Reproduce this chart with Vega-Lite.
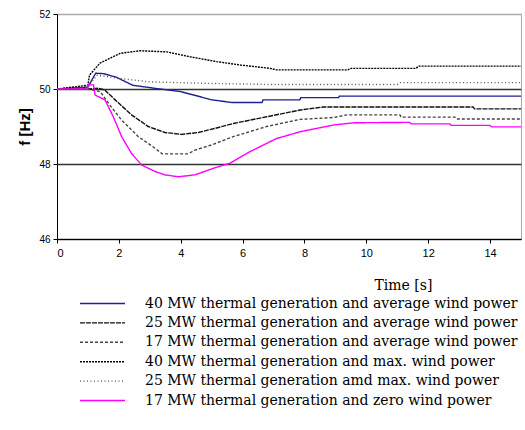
{
  "$schema": "https://vega.github.io/schema/vega-lite/v6.json",
  "width": 464,
  "height": 225,
  "autosize": "none",
  "padding": {"left": 57, "top": 14, "right": 4, "bottom": 191},
  "background": "white",
  "data": {
    "values": [
      {"s": "40 MW thermal generation and average wind power", "t": 0, "f": 50},
      {"s": "40 MW thermal generation and average wind power", "t": 1.0, "f": 50.05},
      {"s": "40 MW thermal generation and average wind power", "t": 1.25, "f": 50.42},
      {"s": "40 MW thermal generation and average wind power", "t": 1.5, "f": 50.41},
      {"s": "40 MW thermal generation and average wind power", "t": 1.9, "f": 50.32},
      {"s": "40 MW thermal generation and average wind power", "t": 2.45, "f": 50.1},
      {"s": "40 MW thermal generation and average wind power", "t": 3.15, "f": 50.02},
      {"s": "40 MW thermal generation and average wind power", "t": 4.0, "f": 49.93},
      {"s": "40 MW thermal generation and average wind power", "t": 4.6, "f": 49.8},
      {"s": "40 MW thermal generation and average wind power", "t": 5.0, "f": 49.71},
      {"s": "40 MW thermal generation and average wind power", "t": 5.66, "f": 49.64},
      {"s": "40 MW thermal generation and average wind power", "t": 6.63, "f": 49.64},
      {"s": "40 MW thermal generation and average wind power", "t": 6.66, "f": 49.71},
      {"s": "40 MW thermal generation and average wind power", "t": 7.85, "f": 49.71},
      {"s": "40 MW thermal generation and average wind power", "t": 7.88, "f": 49.77},
      {"s": "40 MW thermal generation and average wind power", "t": 9.1, "f": 49.77},
      {"s": "40 MW thermal generation and average wind power", "t": 9.13, "f": 49.81},
      {"s": "40 MW thermal generation and average wind power", "t": 15, "f": 49.81},

      {"s": "25 MW thermal generation and average wind power", "t": 0, "f": 50},
      {"s": "25 MW thermal generation and average wind power", "t": 1.0, "f": 50},
      {"s": "25 MW thermal generation and average wind power", "t": 1.34, "f": 50.02},
      {"s": "25 MW thermal generation and average wind power", "t": 1.55, "f": 49.97},
      {"s": "25 MW thermal generation and average wind power", "t": 1.88, "f": 49.71},
      {"s": "25 MW thermal generation and average wind power", "t": 2.41, "f": 49.31},
      {"s": "25 MW thermal generation and average wind power", "t": 2.95, "f": 49.0},
      {"s": "25 MW thermal generation and average wind power", "t": 3.49, "f": 48.84},
      {"s": "25 MW thermal generation and average wind power", "t": 4.03, "f": 48.79},
      {"s": "25 MW thermal generation and average wind power", "t": 4.57, "f": 48.84},
      {"s": "25 MW thermal generation and average wind power", "t": 5.11, "f": 48.95},
      {"s": "25 MW thermal generation and average wind power", "t": 5.7, "f": 49.08},
      {"s": "25 MW thermal generation and average wind power", "t": 6.78, "f": 49.26},
      {"s": "25 MW thermal generation and average wind power", "t": 7.86, "f": 49.44},
      {"s": "25 MW thermal generation and average wind power", "t": 8.6, "f": 49.52},
      {"s": "25 MW thermal generation and average wind power", "t": 13.45, "f": 49.52},
      {"s": "25 MW thermal generation and average wind power", "t": 13.5, "f": 49.47},
      {"s": "25 MW thermal generation and average wind power", "t": 15, "f": 49.47},

      {"s": "17 MW thermal generation and average wind power", "t": 0, "f": 50},
      {"s": "17 MW thermal generation and average wind power", "t": 1.0, "f": 50},
      {"s": "17 MW thermal generation and average wind power", "t": 1.4, "f": 49.93},
      {"s": "17 MW thermal generation and average wind power", "t": 1.71, "f": 49.57},
      {"s": "17 MW thermal generation and average wind power", "t": 2.09, "f": 49.17},
      {"s": "17 MW thermal generation and average wind power", "t": 2.63, "f": 48.73},
      {"s": "17 MW thermal generation and average wind power", "t": 3.17, "f": 48.42},
      {"s": "17 MW thermal generation and average wind power", "t": 3.4, "f": 48.27},
      {"s": "17 MW thermal generation and average wind power", "t": 4.24, "f": 48.27},
      {"s": "17 MW thermal generation and average wind power", "t": 4.46, "f": 48.37},
      {"s": "17 MW thermal generation and average wind power", "t": 5.0, "f": 48.51},
      {"s": "17 MW thermal generation and average wind power", "t": 5.7, "f": 48.73},
      {"s": "17 MW thermal generation and average wind power", "t": 6.78, "f": 49.0},
      {"s": "17 MW thermal generation and average wind power", "t": 7.86, "f": 49.19},
      {"s": "17 MW thermal generation and average wind power", "t": 8.94, "f": 49.24},
      {"s": "17 MW thermal generation and average wind power", "t": 9.37, "f": 49.31},
      {"s": "17 MW thermal generation and average wind power", "t": 11.09, "f": 49.31},
      {"s": "17 MW thermal generation and average wind power", "t": 11.12, "f": 49.25},
      {"s": "17 MW thermal generation and average wind power", "t": 12.9, "f": 49.25},
      {"s": "17 MW thermal generation and average wind power", "t": 12.95, "f": 49.2},
      {"s": "17 MW thermal generation and average wind power", "t": 15, "f": 49.2},

      {"s": "40 MW thermal generation and max. wind power", "t": 0, "f": 50},
      {"s": "40 MW thermal generation and max. wind power", "t": 1.0, "f": 50.1},
      {"s": "40 MW thermal generation and max. wind power", "t": 1.05, "f": 50.37},
      {"s": "40 MW thermal generation and max. wind power", "t": 1.39, "f": 50.69},
      {"s": "40 MW thermal generation and max. wind power", "t": 2.04, "f": 50.95},
      {"s": "40 MW thermal generation and max. wind power", "t": 2.68, "f": 51.02},
      {"s": "40 MW thermal generation and max. wind power", "t": 3.55, "f": 50.99},
      {"s": "40 MW thermal generation and max. wind power", "t": 4.3, "f": 50.86},
      {"s": "40 MW thermal generation and max. wind power", "t": 5.16, "f": 50.73},
      {"s": "40 MW thermal generation and max. wind power", "t": 5.92, "f": 50.64},
      {"s": "40 MW thermal generation and max. wind power", "t": 6.89, "f": 50.55},
      {"s": "40 MW thermal generation and max. wind power", "t": 7.1, "f": 50.51},
      {"s": "40 MW thermal generation and max. wind power", "t": 9.4, "f": 50.51},
      {"s": "40 MW thermal generation and max. wind power", "t": 9.5, "f": 50.55},
      {"s": "40 MW thermal generation and max. wind power", "t": 11.6, "f": 50.55},
      {"s": "40 MW thermal generation and max. wind power", "t": 11.7, "f": 50.61},
      {"s": "40 MW thermal generation and max. wind power", "t": 15, "f": 50.61},

      {"s": "25 MW thermal generation amd max. wind power", "t": 0, "f": 50},
      {"s": "25 MW thermal generation amd max. wind power", "t": 1.0, "f": 50.05},
      {"s": "25 MW thermal generation amd max. wind power", "t": 1.3, "f": 50.37},
      {"s": "25 MW thermal generation amd max. wind power", "t": 2.04, "f": 50.28},
      {"s": "25 MW thermal generation amd max. wind power", "t": 3.0, "f": 50.19},
      {"s": "25 MW thermal generation amd max. wind power", "t": 4.9, "f": 50.15},
      {"s": "25 MW thermal generation amd max. wind power", "t": 6.9, "f": 50.12},
      {"s": "25 MW thermal generation amd max. wind power", "t": 11.0, "f": 50.12},
      {"s": "25 MW thermal generation amd max. wind power", "t": 11.1, "f": 50.17},
      {"s": "25 MW thermal generation amd max. wind power", "t": 15, "f": 50.17},

      {"s": "17 MW thermal generation and zero wind power", "t": 0, "f": 50},
      {"s": "17 MW thermal generation and zero wind power", "t": 0.99, "f": 50},
      {"s": "17 MW thermal generation and zero wind power", "t": 1.0, "f": 50.11},
      {"s": "17 MW thermal generation and zero wind power", "t": 1.18, "f": 50.11},
      {"s": "17 MW thermal generation and zero wind power", "t": 1.23, "f": 49.84},
      {"s": "17 MW thermal generation and zero wind power", "t": 1.55, "f": 49.71},
      {"s": "17 MW thermal generation and zero wind power", "t": 1.82, "f": 49.26},
      {"s": "17 MW thermal generation and zero wind power", "t": 2.09, "f": 48.73},
      {"s": "17 MW thermal generation and zero wind power", "t": 2.41, "f": 48.28},
      {"s": "17 MW thermal generation and zero wind power", "t": 2.74, "f": 47.97},
      {"s": "17 MW thermal generation and zero wind power", "t": 3.17, "f": 47.8},
      {"s": "17 MW thermal generation and zero wind power", "t": 3.49, "f": 47.71},
      {"s": "17 MW thermal generation and zero wind power", "t": 3.92, "f": 47.66},
      {"s": "17 MW thermal generation and zero wind power", "t": 4.46, "f": 47.71},
      {"s": "17 MW thermal generation and zero wind power", "t": 5.11, "f": 47.9},
      {"s": "17 MW thermal generation and zero wind power", "t": 5.59, "f": 48.02},
      {"s": "17 MW thermal generation and zero wind power", "t": 6.24, "f": 48.33},
      {"s": "17 MW thermal generation and zero wind power", "t": 7.1, "f": 48.68},
      {"s": "17 MW thermal generation and zero wind power", "t": 7.86, "f": 48.86},
      {"s": "17 MW thermal generation and zero wind power", "t": 8.94, "f": 49.04},
      {"s": "17 MW thermal generation and zero wind power", "t": 9.6, "f": 49.1},
      {"s": "17 MW thermal generation and zero wind power", "t": 11.4, "f": 49.11},
      {"s": "17 MW thermal generation and zero wind power", "t": 11.45, "f": 49.07},
      {"s": "17 MW thermal generation and zero wind power", "t": 12.7, "f": 49.07},
      {"s": "17 MW thermal generation and zero wind power", "t": 12.75, "f": 49.03},
      {"s": "17 MW thermal generation and zero wind power", "t": 14.0, "f": 49.03},
      {"s": "17 MW thermal generation and zero wind power", "t": 14.05, "f": 48.99},
      {"s": "17 MW thermal generation and zero wind power", "t": 15, "f": 48.99}
    ]
  },
  "mark": {"type": "line", "clip": true},
  "encoding": {
    "x": {
      "field": "t",
      "type": "quantitative",
      "scale": {"domain": [0, 15], "nice": false},
      "axis": {
        "values": [0, 2, 4, 6, 8, 10, 12, 14],
        "title": "Time [s]",
        "titleFont": "DejaVu Serif",
        "titleFontSize": 14,
        "titleFontWeight": "normal",
        "titleColor": "black",
        "titleX": 346,
        "titleY": 50,
        "titleBaseline": "alphabetic",
        "labelFont": "Liberation Sans",
        "labelFontSize": 11,
        "labelColor": "black",
        "labelPadding": 4,
        "tickColor": "black",
        "tickSize": 4,
        "domainColor": "black",
        "grid": false
      }
    },
    "y": {
      "field": "f",
      "type": "quantitative",
      "scale": {"domain": [46, 52], "nice": false, "zero": false},
      "axis": {
        "values": [46, 48, 50, 52],
        "title": "f [Hz]",
        "titleFont": "Liberation Sans",
        "titleFontSize": 15,
        "titleFontWeight": "bold",
        "titleColor": "black",
        "titlePadding": 6,
        "labelFont": "Liberation Sans",
        "labelFontSize": 10,
        "labelColor": "black",
        "labelPadding": 3,
        "tickColor": "black",
        "tickSize": 4,
        "domainColor": "black",
        "grid": true,
        "gridColor": {"condition": {"test": "datum.value == 52", "value": "#aaaaaa"}, "value": "#333333"},
        "gridWidth": 1.3
      }
    },
    "color": {
      "field": "s",
      "type": "nominal",
      "scale": {
        "domain": [
          "40 MW thermal generation and average wind power",
          "25 MW thermal generation and average wind power",
          "17 MW thermal generation and average wind power",
          "40 MW thermal generation and max. wind power",
          "25 MW thermal generation amd max. wind power",
          "17 MW thermal generation and zero wind power"
        ],
        "range": ["#1f1f96", "#111111", "#444444", "#000000", "#555555", "#ff00ff"]
      },
      "legend": {"title": null}
    },
    "strokeDash": {
      "field": "s",
      "type": "nominal",
      "scale": {
        "domain": [
          "40 MW thermal generation and average wind power",
          "25 MW thermal generation and average wind power",
          "17 MW thermal generation and average wind power",
          "40 MW thermal generation and max. wind power",
          "25 MW thermal generation amd max. wind power",
          "17 MW thermal generation and zero wind power"
        ],
        "range": [[1, 0], [5, 1], [3, 2], [2, 1], [1, 2.5], [1, 0]]
      },
      "legend": {"title": null}
    },
    "strokeWidth": {
      "field": "s",
      "type": "nominal",
      "scale": {
        "domain": [
          "40 MW thermal generation and average wind power",
          "25 MW thermal generation and average wind power",
          "17 MW thermal generation and average wind power",
          "40 MW thermal generation and max. wind power",
          "25 MW thermal generation amd max. wind power",
          "17 MW thermal generation and zero wind power"
        ],
        "range": [1.4, 1.4, 1.1, 2.6, 1.4, 1.6]
      },
      "legend": {"title": null}
    }
  },
  "config": {
    "view": {"stroke": "#aaaaaa", "strokeWidth": 1},
    "legend": {
      "orient": "none",
      "legendX": 37,
      "legendY": 281,
      "symbolType": "M-3,0H3",
      "symbolSize": 225,
      "labelFont": "DejaVu Serif",
      "labelFontSize": 14,
      "labelColor": "black",
      "labelLimit": 0,
      "labelOffset": 34,
      "rowPadding": 3.4
    }
  }
}
